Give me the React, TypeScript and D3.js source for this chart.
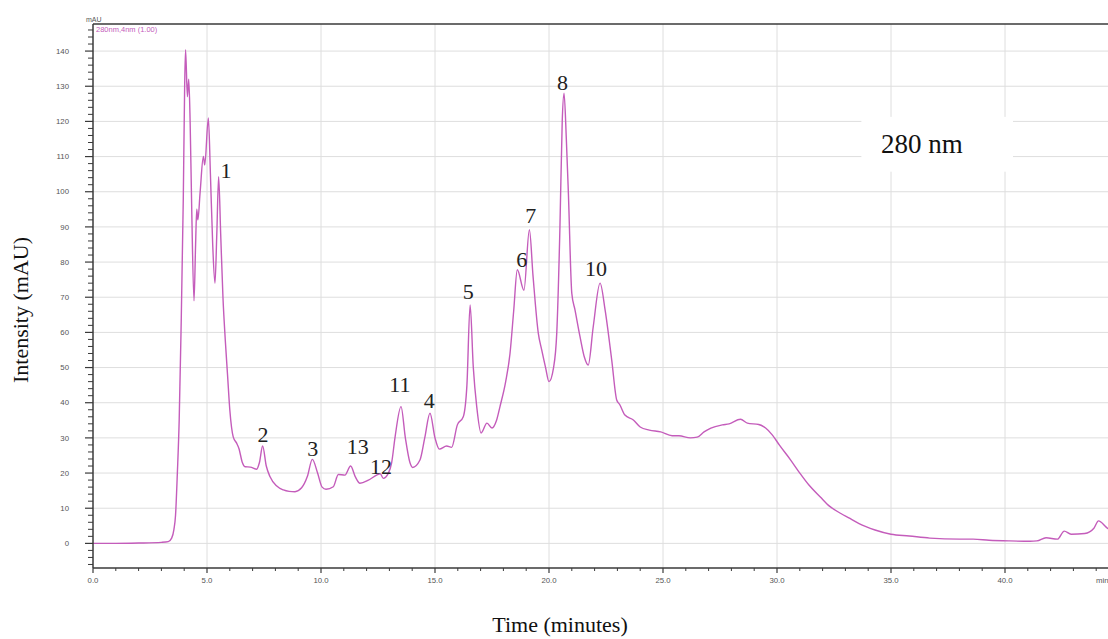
import * as React from 'react';
import * as d3 from 'd3';

// retention time (min) and absorbance (mAU)
const timeMin = [
  0, 1.0, 2.0, 3.0, 3.3, 3.45, 3.55, 3.62, 3.7, 3.78, 3.86, 3.96, 4.02, 4.06, 4.14, 4.2, 4.26, 4.33, 4.43,
  4.5, 4.55, 4.6, 4.7, 4.84, 4.9, 5.06, 5.15, 5.25, 5.35, 5.43, 5.51, 5.6, 5.7, 5.8, 5.9, 6.0, 6.15, 6.3,
  6.4, 6.55, 6.67, 6.9, 7.18, 7.3, 7.44, 7.6, 7.76, 8.06, 8.35, 8.6, 8.86, 9.15, 9.4, 9.62, 9.85, 10.05,
  10.22, 10.54, 10.76, 11.05, 11.3, 11.5, 11.71, 12.08, 12.44, 12.6, 12.73, 12.95, 13.1, 13.25, 13.51,
  13.7, 13.9, 14.02, 14.34, 14.55, 14.78, 15.0, 15.19, 15.51, 15.73, 15.98, 16.24, 16.4, 16.54, 16.68,
  16.83, 17.02, 17.28, 17.5, 17.7, 17.85, 18.1, 18.29, 18.45, 18.61, 18.9, 19.14, 19.3, 19.53, 19.68,
  19.85, 20.0, 20.2, 20.34, 20.48, 20.58, 20.66, 20.76, 20.85, 21.0, 21.14, 21.36, 21.55, 21.72, 21.94,
  22.24, 22.46, 22.75, 22.97, 23.1, 23.33, 23.7, 24.0, 24.4, 24.9, 25.4, 25.7, 26.2, 26.5, 26.8, 27.1,
  27.6, 27.9, 28.4, 28.7, 29.2, 29.5, 29.8, 30.1, 30.6, 31.0, 31.4, 31.9, 32.3, 32.8, 33.2, 33.6, 34.3,
  35.0, 35.8, 36.7, 38.0, 38.6, 39.3, 40.2, 41.1, 41.4, 41.8, 42.3, 42.6, 42.9, 43.5, 43.9, 44.1, 44.5, 44.7
];
const intensity = [
  0.0, 0.0, 0.1, 0.3, 0.5, 1.5, 4, 8, 20, 35, 60, 98, 130, 140.4, 127, 132, 120, 95, 69,
  85, 95, 92, 100, 110, 107.6, 121, 105, 85, 74, 88, 104.3, 88, 70, 58, 48, 38, 30.3, 28.5,
  27, 23, 21.8, 21.7, 21.1, 23, 27.7, 22, 19, 16.3, 15.2, 14.8, 14.7, 15.8, 19, 23.9, 20, 16,
  15.4, 16.1, 19.6, 19.4, 22, 19, 17.1, 18, 19.4, 19.8, 18.5, 19.9, 23, 30.3, 38.9,
  30, 23, 21.6, 23.7, 30, 37, 30, 26.8, 27.7, 27.3, 33.7, 36, 45, 67.8, 50,
  38.9, 31.4, 34.2, 32.8, 35, 38.9, 46, 54, 66, 77.8, 72, 89.2, 76, 59.8, 55,
  50, 46, 50, 59.8, 90, 120, 128, 115, 99.6, 71.1, 66.4, 58.8, 53, 50.7, 61.6,
  74, 66.4, 52.2, 40.8, 39.5, 36.5, 35.1, 33.1, 32.2, 31.7, 30.6, 30.6, 30.0, 30.2, 31.7, 32.8,
  33.7, 34, 35.3, 34.2, 33.8, 32.8, 30.8, 28, 23.7, 20, 16.6, 13.2, 10.6, 8.5, 7.1, 5.6, 3.8,
  2.6, 2.1, 1.5, 1.2, 1.2, 0.9, 0.7, 0.6, 0.7, 1.6, 1.2, 3.5, 2.6, 2.8, 4.3, 6.4, 4.3, 3.8
];

// peak numbers and where their labels sit (time, mAU of text baseline)
const peakNames = ['1', '2', '3', '13', '12', '11', '4', '5', '6', '7', '8', '10'];
const peakLabelTime = [5.83, 7.46, 9.64, 11.61, 12.63, 13.46, 14.75, 16.46, 18.8, 19.2, 20.59, 22.06];
const peakLabelValue = [104, 28.9, 24.8, 25.4, 19.7, 43.1, 38.5, 69.5, 78.7, 91.2, 128.8, 75.9];

const xMajorTicks = [0, 5, 10, 15, 20, 25, 30, 35, 40];
const yMajorTicks = [0, 10, 20, 30, 40, 50, 60, 70, 80, 90, 100, 110, 120, 130, 140];

const width = 1108;
const height = 639;

const Chromatogram = () => {
  const ref = React.useRef(null);

  React.useEffect(() => {
    document.body.style.margin = '0';
    const svg = d3.select(ref.current);
    svg.selectAll('*').remove();

    const x = d3.scaleLinear().domain([0, 45]).range([93, 93 + 45 * 22.8]);
    const y = d3.scaleLinear().domain([-7, 147.7]).range([568, 24]);
    const top = y(147.7);
    const bottom = y(-7);
    const left = x(0);

    svg.append('rect').attr('width', width).attr('height', height).attr('fill', '#fff');

    // grid
    svg.append('g')
      .selectAll('line')
      .data(yMajorTicks)
      .enter()
      .append('line')
      .attr('x1', left).attr('x2', width)
      .attr('y1', d => y(d)).attr('y2', d => y(d))
      .attr('stroke', '#dedede').attr('stroke-width', 1);

    svg.append('g')
      .selectAll('line')
      .data(xMajorTicks.filter(d => d > 0))
      .enter()
      .append('line')
      .attr('x1', d => x(d)).attr('x2', d => x(d))
      .attr('y1', top).attr('y2', bottom)
      .attr('stroke', '#dedede').attr('stroke-width', 1);

    // "280 nm" box sits over the grid
    svg.append('rect')
      .attr('x', x(33.7)).attr('y', y(121.3))
      .attr('width', x(40.35) - x(33.7)).attr('height', y(105.7) - y(121.3))
      .attr('fill', '#fff');
    svg.append('text')
      .attr('x', x(36.35)).attr('y', y(110.9))
      .attr('text-anchor', 'middle')
      .style('font-family', '"Liberation Serif", "Times New Roman", serif')
      .style('font-size', '27px')
      .attr('fill', '#111')
      .text('280 nm');

    // trace
    const line = d3.line()
      .x(d => x(d[0]))
      .y(d => y(d[1]))
      .curve(d3.curveMonotoneX);

    svg.append('path')
      .datum(timeMin.map((t, i) => [t, intensity[i]]))
      .attr('d', line)
      .attr('fill', 'none')
      .attr('stroke', '#c45cbb')
      .attr('stroke-width', 1.4)
      .attr('stroke-linejoin', 'round');

    // frame / axes
    const axisColour = '#3a3a3a';
    svg.append('line').attr('x1', left).attr('x2', width).attr('y1', top).attr('y2', top)
      .attr('stroke', axisColour).attr('stroke-width', 1.5);
    svg.append('line').attr('x1', left).attr('x2', width).attr('y1', bottom).attr('y2', bottom)
      .attr('stroke', axisColour).attr('stroke-width', 1.5);
    svg.append('line').attr('x1', left).attr('x2', left).attr('y1', top).attr('y2', bottom)
      .attr('stroke', axisColour).attr('stroke-width', 1.5);

    const tickFont = '"Liberation Sans", Arial, sans-serif';

    // y ticks
    const yMinor = d3.range(-6, 147, 2).filter(d => d % 10 !== 0);
    svg.append('g').selectAll('line').data(yMinor).enter().append('line')
      .attr('x1', left - 5).attr('x2', left)
      .attr('y1', d => y(d)).attr('y2', d => y(d))
      .attr('stroke', axisColour).attr('stroke-width', 1);
    svg.append('g').selectAll('line').data(yMajorTicks).enter().append('line')
      .attr('x1', left - 8).attr('x2', left)
      .attr('y1', d => y(d)).attr('y2', d => y(d))
      .attr('stroke', axisColour).attr('stroke-width', 1.2);
    svg.append('g').selectAll('text').data(yMajorTicks).enter().append('text')
      .attr('x', 69).attr('y', d => y(d) + 2.7)
      .attr('text-anchor', 'end')
      .style('font-family', tickFont).style('font-size', '7.8px')
      .attr('fill', '#555')
      .text(d => d);

    // x ticks
    const xMinor = d3.range(1, 45, 1).filter(d => d % 5 !== 0);
    svg.append('g').selectAll('line').data(xMinor).enter().append('line')
      .attr('x1', d => x(d)).attr('x2', d => x(d))
      .attr('y1', bottom).attr('y2', bottom + 3)
      .attr('stroke', axisColour).attr('stroke-width', 1);
    svg.append('g').selectAll('line').data(xMajorTicks).enter().append('line')
      .attr('x1', d => x(d)).attr('x2', d => x(d))
      .attr('y1', bottom).attr('y2', bottom + 5)
      .attr('stroke', axisColour).attr('stroke-width', 1.2);
    svg.append('g').selectAll('text').data(xMajorTicks).enter().append('text')
      .attr('x', d => x(d)).attr('y', 583)
      .attr('text-anchor', 'middle')
      .style('font-family', tickFont).style('font-size', '7.8px')
      .attr('fill', '#555')
      .text(d => d3.format('.1f')(d));
    svg.append('text')
      .attr('x', 1096).attr('y', 583)
      .style('font-family', tickFont).style('font-size', '7.8px')
      .attr('fill', '#555')
      .text('min');

    svg.append('text')
      .attr('x', 86).attr('y', 22)
      .style('font-family', tickFont).style('font-size', '7px')
      .attr('fill', '#555')
      .text('mAU');
    svg.append('text')
      .attr('x', 96).attr('y', 32)
      .style('font-family', tickFont).style('font-size', '7.5px')
      .attr('fill', '#c45cbb')
      .text('280nm,4nm (1.00)');

    // peak numbers
    svg.append('g').selectAll('text').data(peakNames).enter().append('text')
      .attr('x', (d, i) => x(peakLabelTime[i]))
      .attr('y', (d, i) => y(peakLabelValue[i]))
      .attr('text-anchor', 'middle')
      .style('font-family', '"Liberation Serif", "Times New Roman", serif')
      .style('font-size', '22px')
      .attr('fill', '#222')
      .text(d => d);

    // axis titles
    svg.append('text')
      .attr('transform', 'translate(28,310) rotate(-90)')
      .attr('text-anchor', 'middle')
      .style('font-family', '"Liberation Serif", "Times New Roman", serif')
      .style('font-size', '22px')
      .attr('fill', '#111')
      .text('Intensity (mAU)');
    svg.append('text')
      .attr('x', 560).attr('y', 632)
      .attr('text-anchor', 'middle')
      .style('font-family', '"Liberation Serif", "Times New Roman", serif')
      .style('font-size', '22px')
      .attr('fill', '#111')
      .text('Time (minutes)');
  }, []);

  return <svg ref={ref} width={width} height={height} style={{ display: 'block' }} />;
};

export default function App() {
  return <Chromatogram />;
}
